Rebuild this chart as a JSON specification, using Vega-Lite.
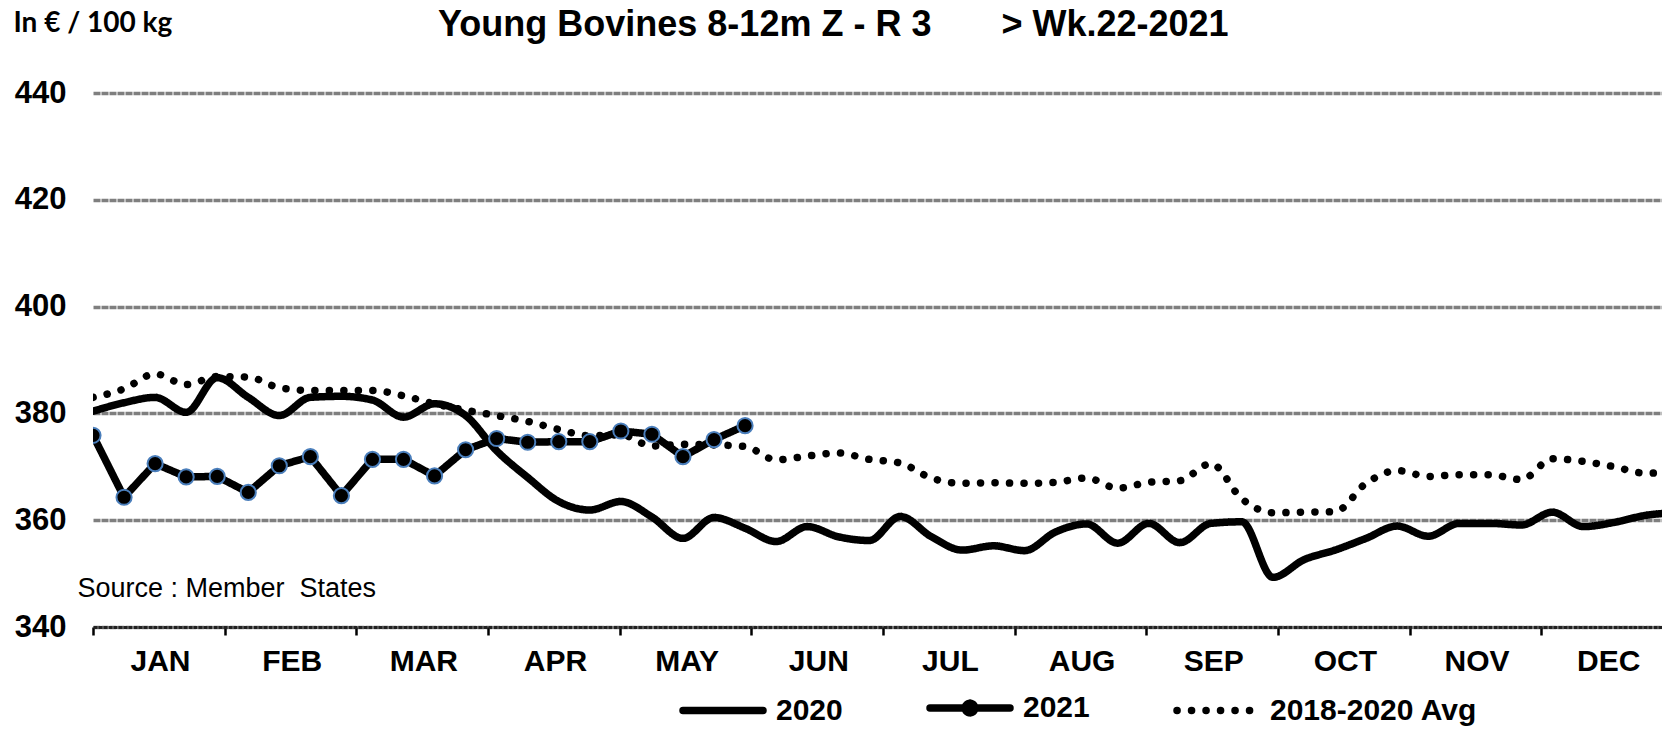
{
  "$schema": "https://vega.github.io/schema/vega-lite/v6.json",
  "width": 1569,
  "height": 534,
  "autosize": {"type": "none"},
  "padding": {"left": 93, "top": 93, "right": 0, "bottom": 103},
  "background": "white",
  "config": {"view": {"stroke": null}, "font": "Liberation Sans"},
  "title": {
    "text": "Young Bovines 8-12m Z - R 3\u00a0\u00a0\u00a0\u00a0\u00a0\u00a0 > Wk.22-2021",
    "anchor": "start", "frame": "group", "dx": 345, "offset": -63, "baseline": "alphabetic",
    "font": "Liberation Sans", "fontSize": 36, "fontWeight": "bold", "color": "black"
  },
  "data": {"values": [
    {"week": 1, "series": "2020", "value": 380.4},
    {"week": 2, "series": "2020", "value": 382.0},
    {"week": 3, "series": "2020", "value": 383.0},
    {"week": 4, "series": "2020", "value": 380.2},
    {"week": 5, "series": "2020", "value": 386.7},
    {"week": 6, "series": "2020", "value": 383.0},
    {"week": 7, "series": "2020", "value": 379.6},
    {"week": 8, "series": "2020", "value": 383.0},
    {"week": 9, "series": "2020", "value": 383.2},
    {"week": 10, "series": "2020", "value": 382.5},
    {"week": 11, "series": "2020", "value": 379.3},
    {"week": 12, "series": "2020", "value": 381.8},
    {"week": 13, "series": "2020", "value": 379.6},
    {"week": 14, "series": "2020", "value": 373.0},
    {"week": 15, "series": "2020", "value": 368.0},
    {"week": 16, "series": "2020", "value": 363.5},
    {"week": 17, "series": "2020", "value": 361.9},
    {"week": 18, "series": "2020", "value": 363.5},
    {"week": 19, "series": "2020", "value": 360.6},
    {"week": 20, "series": "2020", "value": 356.6},
    {"week": 21, "series": "2020", "value": 360.5},
    {"week": 22, "series": "2020", "value": 358.5},
    {"week": 23, "series": "2020", "value": 356.0},
    {"week": 24, "series": "2020", "value": 358.8},
    {"week": 25, "series": "2020", "value": 356.9},
    {"week": 26, "series": "2020", "value": 356.2},
    {"week": 27, "series": "2020", "value": 360.7},
    {"week": 28, "series": "2020", "value": 356.9},
    {"week": 29, "series": "2020", "value": 354.4},
    {"week": 30, "series": "2020", "value": 355.2},
    {"week": 31, "series": "2020", "value": 354.3},
    {"week": 32, "series": "2020", "value": 357.8},
    {"week": 33, "series": "2020", "value": 359.3},
    {"week": 34, "series": "2020", "value": 355.7},
    {"week": 35, "series": "2020", "value": 359.4},
    {"week": 36, "series": "2020", "value": 355.8},
    {"week": 37, "series": "2020", "value": 359.4},
    {"week": 38, "series": "2020", "value": 359.7},
    {"week": 39, "series": "2020", "value": 349.3},
    {"week": 40, "series": "2020", "value": 352.6},
    {"week": 41, "series": "2020", "value": 354.4},
    {"week": 42, "series": "2020", "value": 356.6},
    {"week": 43, "series": "2020", "value": 358.9},
    {"week": 44, "series": "2020", "value": 357.0},
    {"week": 45, "series": "2020", "value": 359.4},
    {"week": 46, "series": "2020", "value": 359.4},
    {"week": 47, "series": "2020", "value": 359.1},
    {"week": 48, "series": "2020", "value": 361.5},
    {"week": 49, "series": "2020", "value": 358.8},
    {"week": 50, "series": "2020", "value": 359.6},
    {"week": 51, "series": "2020", "value": 360.9},
    {"week": 52, "series": "2020", "value": 361.4},
    {"week": 1, "series": "2018-2020 Avg", "value": 383.0},
    {"week": 2, "series": "2018-2020 Avg", "value": 384.6},
    {"week": 3, "series": "2018-2020 Avg", "value": 387.4},
    {"week": 4, "series": "2018-2020 Avg", "value": 385.4},
    {"week": 5, "series": "2018-2020 Avg", "value": 386.9},
    {"week": 6, "series": "2018-2020 Avg", "value": 386.8},
    {"week": 7, "series": "2018-2020 Avg", "value": 384.8},
    {"week": 8, "series": "2018-2020 Avg", "value": 384.3},
    {"week": 9, "series": "2018-2020 Avg", "value": 384.3},
    {"week": 10, "series": "2018-2020 Avg", "value": 384.3},
    {"week": 11, "series": "2018-2020 Avg", "value": 383.3},
    {"week": 12, "series": "2018-2020 Avg", "value": 381.8},
    {"week": 13, "series": "2018-2020 Avg", "value": 380.6},
    {"week": 14, "series": "2018-2020 Avg", "value": 379.6},
    {"week": 15, "series": "2018-2020 Avg", "value": 378.5},
    {"week": 16, "series": "2018-2020 Avg", "value": 377.0},
    {"week": 17, "series": "2018-2020 Avg", "value": 375.8},
    {"week": 18, "series": "2018-2020 Avg", "value": 376.0},
    {"week": 19, "series": "2018-2020 Avg", "value": 373.9},
    {"week": 20, "series": "2018-2020 Avg", "value": 374.2},
    {"week": 21, "series": "2018-2020 Avg", "value": 374.1},
    {"week": 22, "series": "2018-2020 Avg", "value": 373.8},
    {"week": 23, "series": "2018-2020 Avg", "value": 371.3},
    {"week": 24, "series": "2018-2020 Avg", "value": 372.0},
    {"week": 25, "series": "2018-2020 Avg", "value": 372.6},
    {"week": 26, "series": "2018-2020 Avg", "value": 371.4},
    {"week": 27, "series": "2018-2020 Avg", "value": 370.7},
    {"week": 28, "series": "2018-2020 Avg", "value": 367.9},
    {"week": 29, "series": "2018-2020 Avg", "value": 366.9},
    {"week": 30, "series": "2018-2020 Avg", "value": 367.0},
    {"week": 31, "series": "2018-2020 Avg", "value": 366.9},
    {"week": 32, "series": "2018-2020 Avg", "value": 367.1},
    {"week": 33, "series": "2018-2020 Avg", "value": 367.9},
    {"week": 34, "series": "2018-2020 Avg", "value": 366.0},
    {"week": 35, "series": "2018-2020 Avg", "value": 367.1},
    {"week": 36, "series": "2018-2020 Avg", "value": 367.4},
    {"week": 37, "series": "2018-2020 Avg", "value": 370.6},
    {"week": 38, "series": "2018-2020 Avg", "value": 364.0},
    {"week": 39, "series": "2018-2020 Avg", "value": 361.4},
    {"week": 40, "series": "2018-2020 Avg", "value": 361.5},
    {"week": 41, "series": "2018-2020 Avg", "value": 361.6},
    {"week": 42, "series": "2018-2020 Avg", "value": 366.9},
    {"week": 43, "series": "2018-2020 Avg", "value": 369.3},
    {"week": 44, "series": "2018-2020 Avg", "value": 368.2},
    {"week": 45, "series": "2018-2020 Avg", "value": 368.5},
    {"week": 46, "series": "2018-2020 Avg", "value": 368.5},
    {"week": 47, "series": "2018-2020 Avg", "value": 367.6},
    {"week": 48, "series": "2018-2020 Avg", "value": 371.5},
    {"week": 49, "series": "2018-2020 Avg", "value": 371.0},
    {"week": 50, "series": "2018-2020 Avg", "value": 370.0},
    {"week": 51, "series": "2018-2020 Avg", "value": 368.8},
    {"week": 52, "series": "2018-2020 Avg", "value": 369.0},
    {"week": 1, "series": "2021", "value": 375.9},
    {"week": 2, "series": "2021", "value": 364.3},
    {"week": 3, "series": "2021", "value": 370.6},
    {"week": 4, "series": "2021", "value": 368.1},
    {"week": 5, "series": "2021", "value": 368.2},
    {"week": 6, "series": "2021", "value": 365.2},
    {"week": 7, "series": "2021", "value": 370.2},
    {"week": 8, "series": "2021", "value": 371.9},
    {"week": 9, "series": "2021", "value": 364.6},
    {"week": 10, "series": "2021", "value": 371.4},
    {"week": 11, "series": "2021", "value": 371.4},
    {"week": 12, "series": "2021", "value": 368.3},
    {"week": 13, "series": "2021", "value": 373.2},
    {"week": 14, "series": "2021", "value": 375.3},
    {"week": 15, "series": "2021", "value": 374.6},
    {"week": 16, "series": "2021", "value": 374.7},
    {"week": 17, "series": "2021", "value": 374.7},
    {"week": 18, "series": "2021", "value": 376.7},
    {"week": 19, "series": "2021", "value": 376.1},
    {"week": 20, "series": "2021", "value": 371.9},
    {"week": 21, "series": "2021", "value": 375.1},
    {"week": 22, "series": "2021", "value": 377.7}
  ]},
  "encoding": {
    "x": {
      "field": "week", "type": "quantitative",
      "scale": {"domain": [1, 51.53], "nice": false, "zero": false},
      "axis": {
        "values": [1, 5.24, 9.48, 13.72, 17.96, 22.2, 26.44, 30.68, 34.92, 39.16, 43.4, 47.64],
        "labelExpr": "['JAN','FEB','MAR','APR','MAY','JUN','JUL','AUG','SEP','OCT','NOV','DEC'][round((datum.value-1)/4.24)]",
        "labelOffset": 67, "labelFlush": false, "labelOverlap": false, "labelBound": false,
        "labelFont": "Liberation Sans", "labelFontSize": 30, "labelFontWeight": "bold", "labelColor": "black",
        "labelBaseline": "top", "labelAlign": "center", "labelPadding": 11,
        "tickSize": 8, "tickWidth": 2.5, "tickColor": "black",
        "domainColor": "#222222", "domainWidth": 3, "domainDash": [4, 1],
        "grid": false,
        "title": "Source : Member\u00a0 States",
        "titleX": -16, "titleY": -39, "titleAlign": "left", "titleBaseline": "middle", "titleAngle": 0,
        "titleFont": "Liberation Sans", "titleFontSize": 27, "titleFontWeight": "normal", "titleColor": "black"
      }
    },
    "y": {
      "field": "value", "type": "quantitative",
      "scale": {"domain": [340, 440], "nice": false, "zero": false},
      "axis": {
        "values": [340, 360, 380, 400, 420, 440],
        "labelFont": "Liberation Sans", "labelFontSize": 31, "labelFontWeight": "bold", "labelColor": "black",
        "labelPadding": 27, "tickSize": 0, "ticks": false, "domain": false,
        "grid": true, "gridColor": "#7f7f7f", "gridWidth": 3.5, "gridDash": [7, 1],
        "title": "In € / 100 kg", "titleAngle": 0, "titleX": -80, "titleY": -70,
        "titleAlign": "left", "titleBaseline": "middle",
        "titleFont": "Lato", "titleFontSize": 28, "titleFontWeight": "bold", "titleColor": "black"
      }
    }
  },
  "layer": [
    {
      "transform": [{"filter": "datum.series != '2021'"}],
      "mark": {"type": "line", "clip": true, "color": "black", "strokeWidth": 7.5, "strokeCap": "round", "strokeJoin": "round", "interpolate": "monotone"},
      "encoding": {
        "strokeDash": {
          "field": "series", "type": "nominal",
          "scale": {"domain": ["2020", "2021", "2018-2020 Avg"], "range": [[1, 0], [1, 0], [0.1, 14.4]]},
          "legend": {
            "orient": "none", "legendX": 586, "legendY": 571, "direction": "horizontal", "title": null,
            "symbolType": "stroke", "symbolSize": 6400, "symbolStrokeWidth": 7.5, "symbolStrokeColor": "black",
            "labelFont": "Liberation Sans", "labelFontSize": 30, "labelFontWeight": "bold", "labelColor": "black",
            "labelOffset": 9, "labelLimit": 400, "columnPadding": 72, "padding": 0,
            "encode": {"symbols": {"update": {
              "shape": {"signal": "datum.value === '2021' ? 'M-1,0H1M-0.12,0A0.12,0.12,0,1,0,0.12,0A0.12,0.12,0,1,0,-0.12,0' : 'stroke'"},
              "fill": {"value": "black"},
              "stroke": {"value": "black"},
              "strokeWidth": {"value": 7.5},
              "strokeDash": {"scale": "strokeDash", "field": "value"},
              "strokeCap": {"value": "round"},
              "opacity": {"value": 1}
            }}}
          }
        }
      }
    },
    {
      "transform": [{"filter": "datum.series == '2021'"}],
      "mark": {"type": "line", "clip": true, "color": "black", "strokeWidth": 7.5, "strokeCap": "round", "strokeJoin": "round"},
      "encoding": {
        "strokeDash": {
          "field": "series", "type": "nominal",
          "scale": {"domain": ["2020", "2021", "2018-2020 Avg"], "range": [[1, 0], [1, 0], [0.1, 14.4]]},
          "legend": {
            "orient": "none", "legendX": 586, "legendY": 571, "direction": "horizontal", "title": null,
            "symbolType": "stroke", "symbolSize": 6400, "symbolStrokeWidth": 7.5, "symbolStrokeColor": "black",
            "labelFont": "Liberation Sans", "labelFontSize": 30, "labelFontWeight": "bold", "labelColor": "black",
            "labelOffset": 9, "labelLimit": 400, "columnPadding": 72, "padding": 0,
            "encode": {"symbols": {"update": {
              "shape": {"signal": "datum.value === '2021' ? 'M-1,0H1M-0.12,0A0.12,0.12,0,1,0,0.12,0A0.12,0.12,0,1,0,-0.12,0' : 'stroke'"},
              "fill": {"value": "black"},
              "stroke": {"value": "black"},
              "strokeWidth": {"value": 7.5},
              "strokeDash": {"scale": "strokeDash", "field": "value"},
              "strokeCap": {"value": "round"},
              "opacity": {"value": 1}
            }}}
          }
        }
      }
    },
    {
      "transform": [{"filter": "datum.series == '2021'"}],
      "mark": {"type": "point", "shape": "circle", "filled": true, "fill": "black", "stroke": "#4a7ebb", "strokeWidth": 2, "size": 230, "opacity": 1, "clip": true}
    }
  ]
}
